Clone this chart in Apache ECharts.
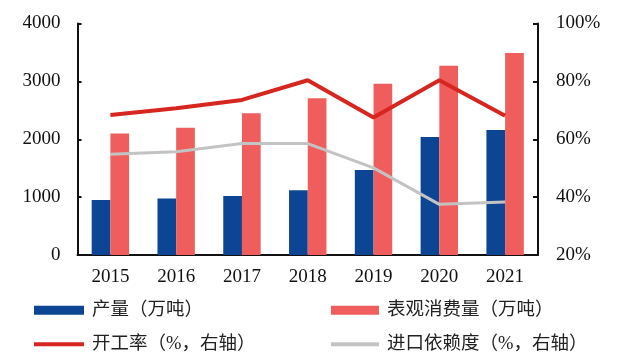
<!DOCTYPE html>
<html>
<head>
<meta charset="utf-8">
<script src="https://cdn.jsdelivr.net/npm/echarts@6/dist/echarts.min.js"></script>
<style>html,body{margin:0;padding:0;background:#fff}#c{width:618px;height:364px}</style>
</head>
<body>
<div id="c"></div>
<script>
const years = ['2015','2016','2017','2018','2019','2020','2021'];
const production = [950, 975, 1020, 1120, 1470, 2040, 2160];
const consumption = [2100, 2200, 2450, 2710, 2960, 3270, 3490];
const utilization = [68.4, 70.7, 73.6, 80.4, 67.5, 80.4, 68.1];
const importDep = [54.8, 55.7, 58.5, 58.5, 50.1, 37.5, 38.3];
const names = ['产量（万吨）', '表观消费量（万吨）', '开工率（%，右轴）', '进口依赖度（%，右轴）'];

const numFont = '"Liberation Serif", "Times New Roman", serif';
const cjkFont = '"Liberation Serif", "Noto Sans CJK SC", serif';
const lineIcon = 'path://M0,0H50V4H0Z';

const chart = echarts.init(document.getElementById('c'), null, {renderer: 'canvas'});
chart.setOption({
  animation: false,
  backgroundColor: '#fff',
  grid: {left: 77.5, right: 80, top: 23.5, bottom: 109},
  legend: [
    {data: [{name: names[0], icon: 'rect'}, {name: names[2], icon: lineIcon}], orient: 'vertical', left: 29, top: 296,
     itemWidth: 50, itemHeight: 9, itemGap: 15.5, symbolKeepAspect: true,
     textStyle: {fontSize: 18.5, color: '#222', fontFamily: cjkFont, padding: [0, 0, 0, 3]}},
    {data: [{name: names[1], icon: 'rect'}, {name: names[3], icon: lineIcon}], orient: 'vertical', left: 326, top: 296,
     itemWidth: 48, itemHeight: 9, itemGap: 15.5, symbolKeepAspect: true,
     textStyle: {fontSize: 18.5, color: '#222', fontFamily: cjkFont, padding: [0, 0, 0, 3]}}
  ],
  xAxis: {
    type: 'category', data: years, boundaryGap: true,
    axisLine: {lineStyle: {color: '#111', width: 2}},
    axisTick: {show: false},
    axisLabel: {fontSize: 19, color: '#111', fontFamily: numFont, margin: 13}
  },
  yAxis: [
    {type: 'value', min: 0, max: 4000, interval: 1000,
     axisLine: {show: true, lineStyle: {color: '#111', width: 2}},
     axisTick: {show: true, inside: true, length: 4, lineStyle: {color: '#111', width: 2}},
     splitLine: {show: false},
     axisLabel: {fontSize: 19, color: '#111', fontFamily: numFont, margin: 17, formatter: v => String(v)}},
    {type: 'value', min: 20, max: 100, interval: 20, position: 'right',
     axisLine: {show: true, lineStyle: {color: '#111', width: 2}},
     axisTick: {show: true, inside: true, length: 5, lineStyle: {color: '#111', width: 2}},
     splitLine: {show: false},
     axisLabel: {fontSize: 19, color: '#111', fontFamily: numFont, margin: 18, formatter: '{value}%'}}
  ],
  series: [
    {name: names[0], type: 'bar', data: production, barWidth: 18.7, barGap: '0%',
     itemStyle: {color: '#0b4594'}},
    {name: names[1], type: 'bar', data: consumption, barWidth: 18.7, barGap: '0%',
     itemStyle: {color: '#ef5d5d'}},
    {name: names[2], type: 'line', yAxisIndex: 1, data: utilization, symbol: 'none',
     lineStyle: {color: '#d7261f', width: 4}, itemStyle: {color: '#d7261f'}},
    {name: names[3], type: 'line', yAxisIndex: 1, data: importDep, symbol: 'none',
     lineStyle: {color: '#c3c3c3', width: 3}, itemStyle: {color: '#c3c3c3'}}
  ]
});
</script>
</body>
</html>
